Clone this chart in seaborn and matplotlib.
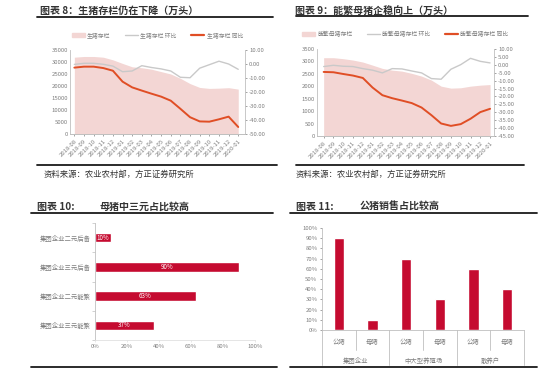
import matplotlib
matplotlib.use("Agg")
import matplotlib.pyplot as plt
from matplotlib.lines import Line2D
from matplotlib.patches import Patch
import seaborn as sns
import numpy as np
import pandas as pd

# ---------------- data ----------------
months = ["2018-08", "2018-09", "2018-10", "2018-11", "2018-12", "2019-01", "2019-02",
          "2019-03", "2019-04", "2019-05", "2019-06", "2019-07", "2019-08", "2019-09",
          "2019-10", "2019-11", "2019-12", "2020-01"]

hog_stock = [32000, 32300, 32300, 32000, 30900, 29400, 28000, 27600, 27000, 26000,
             25000, 23200, 21000, 19400, 19000, 19100, 19300, 18700]
hog_mom = [-0.3, 0.5, 0.5, -0.2, -1.5, -5.5, -5.0, -1.2, -2.5, -3.5, -5.0, -9.5,
           -9.8, -3.0, -0.5, 2.0, 0.0, -3.8]
hog_yoy = [-2.6, -1.9, -1.9, -2.9, -4.8, -12.6, -16.7, -19.0, -21.2, -23.3, -26.2,
           -32.0, -38.0, -41.0, -41.2, -39.5, -37.6, -45.0]

sow_stock = [3150, 3150, 3110, 3055, 2975, 2850, 2720, 2650, 2610, 2520, 2410, 2250,
             2005, 1925, 1940, 2005, 2045, 2070]
sow_mom = [-1.1, -0.3, -0.9, -1.1, -2.4, -3.4, -5.1, -2.4, -2.6, -3.9, -5.1, -8.7,
           -9.1, -2.8, 0.1, 4.1, 2.2, 1.2]
sow_yoy = [-4.5, -4.7, -5.8, -6.8, -8.3, -14.4, -19.2, -21.1, -22.6, -24.2, -27.0,
           -31.8, -37.1, -38.6, -37.5, -34.1, -29.9, -27.8]

breed_labels = ["集团企业二元后备", "集团企业三元后备", "集团企业二元能繁", "集团企业三元能繁"]
breed_values = [10, 90, 63, 37]

sale_groups = ["集团企业", "中大型养殖场", "散养户"]
sale_sex = ["公猪", "母猪"]
sale_values = [90, 10, 70, 30, 60, 40]

# ---------------- style ----------------
sns.set_theme(style="white")
plt.rcParams["font.family"] = ["Noto Sans CJK SC", "DejaVu Sans"]
plt.rcParams["axes.unicode_minus"] = False

W, H = 554, 370
fig = plt.figure(figsize=(W / 100, H / 100), dpi=100)
fig.patch.set_facecolor("white")

PINK = "#F3D6D4"
GREY = "#C9C9C9"
ORANGE = "#E04E25"
CRIMSON = "#C50B30"
TXT = "#7F7F7F"
AX = "#BFBFBF"


def rect(l, t, r, b):
    return [l / W, 1 - b / H, (r - l) / W, (b - t) / H]


def ftext(x, y, s, **kw):
    fig.text(x / W, 1 - y / H, s, va="center", **kw)


def rule(x1, x2, y, lw=1.3):
    fig.add_artist(Line2D([x1 / W, x2 / W], [1 - y / H, 1 - y / H], color="#1a1a1a", lw=lw))


def style_axis(ax):
    for s in ["top"]:
        ax.spines[s].set_visible(False)
    for s in ["left", "right", "bottom"]:
        ax.spines[s].set_color(AX)
        ax.spines[s].set_linewidth(0.6)
    ax.tick_params(colors=TXT, labelsize=4.3, length=1.5, width=0.5, pad=1.5)


def line_panel(r, stock, mom, yoy, names, lticks, rticks, xl):
    ax = fig.add_axes(r)
    x = np.arange(len(months))
    df = pd.DataFrame({"x": x, "stock": stock, "mom": mom, "yoy": yoy})
    ax.fill_between(df["x"], 0, df["stock"], color=PINK, lw=0)
    ax.set_ylim(lticks[0], lticks[-1])
    ax.set_yticks(lticks)
    ax.set_xlim(*xl)
    ax.set_xticks(x)
    ax.set_xticklabels(months, rotation=45, ha="right", rotation_mode="anchor")
    style_axis(ax)
    ax.spines["right"].set_visible(False)
    ax.tick_params(axis="y", length=0)
    ax.tick_params(axis="x", bottom=True)
    ax2 = ax.twinx()
    sns.lineplot(data=df, x="x", y="mom", ax=ax2, color=GREY, lw=1.0)
    sns.lineplot(data=df, x="x", y="yoy", ax=ax2, color=ORANGE, lw=1.4)
    ax2.set_ylim(rticks[0], rticks[-1])
    ax2.set_yticks(rticks)
    ax2.set_yticklabels([f"{v:.2f}" for v in rticks])
    ax2.set_xlim(*xl)
    ax2.set_xlabel("")
    ax2.set_ylabel("")
    ax.set_xlabel("")
    ax.set_ylabel("")
    style_axis(ax2)
    ax2.spines["left"].set_visible(False)
    ax2.tick_params(axis="y", length=1.5)
    ax2.grid(False)
    ax.grid(False)
    handles = [Patch(color=PINK, label=names[0]),
               Line2D([], [], color=GREY, lw=1.0, label=names[1]),
               Line2D([], [], color=ORANGE, lw=1.6, label=names[2])]
    ax.legend(handles=handles, loc="lower center", bbox_to_anchor=(0.5, 1.08), ncol=3,
              frameon=False, fontsize=4.2, labelcolor=TXT, handlelength=2.2,
              handleheight=0.6, columnspacing=2.5, handletextpad=0.4)
    return ax


# ---------------- panel 8 ----------------
ftext(40, 11, "图表 8：生猪存栏仍在下降（万头）", fontsize=7.2, fontweight="bold", color="#333333")
rule(37, 273, 17)
line_panel(rect(70, 50, 245, 134), hog_stock, hog_mom, hog_yoy,
           ["生猪存栏", "生猪存栏 环比", "生猪存栏 同比"],
           list(range(0, 35001, 5000)), list(range(-50, 11, 10)), (-0.45, 17.7))
rule(37, 277, 165)
ftext(44, 174, "资料来源：农业农村部，方正证券研究所", fontsize=6, color="#333333", style="italic")

# ---------------- panel 9 ----------------
ftext(295, 11, "图表 9：能繁母猪企稳向上（万头）", fontsize=7.2, fontweight="bold", color="#333333")
rule(296, 528, 16)
line_panel(rect(317, 49, 494, 136), sow_stock, sow_mom, sow_yoy,
           ["能繁母猪存栏", "能繁母猪存栏 环比", "能繁母猪存栏 同比"],
           list(range(0, 3501, 500)), list(range(-45, 11, 5)), (-0.68, 17.4))
rule(296, 524, 165)
ftext(296, 174, "资料来源：农业农村部，方正证券研究所", fontsize=6, color="#333333", style="italic")

# ---------------- panel 10 ----------------
ftext(37, 207, "图表 10:", fontsize=7.2, fontweight="bold", color="#333333")
ftext(100, 207, "母猪中三元占比较高", fontsize=7.2, fontweight="bold", color="#333333")
rule(31, 273, 213)
ax3 = fig.add_axes(rect(95, 223, 255, 340))
df3 = pd.DataFrame({"label": breed_labels, "value": breed_values})
sns.barplot(data=df3, x="value", y="label", orient="h", color=CRIMSON, width=0.33,
            ax=ax3, saturation=1)
ax3.set_xlim(0, 100)
ax3.set_ylim(3.5, -0.5)
ax3.set_xticks(range(0, 101, 20))
ax3.set_xticklabels([f"{v}%" for v in range(0, 101, 20)])
ax3.set_yticks(np.arange(-0.5, 3.6, 1), minor=True)
style_axis(ax3)
ax3.spines["right"].set_visible(False)
ax3.spines["bottom"].set_color("#E0E0E0")
ax3.tick_params(axis="y", which="major", length=0, labelsize=4.6, pad=3)
ax3.tick_params(axis="y", which="minor", left=True, length=2, color=AX, width=0.5)
ax3.tick_params(axis="x", bottom=True, length=1.5, color="#E0E0E0")
ax3.set_xlabel("")
ax3.set_ylabel("")
for i, v in enumerate(breed_values):
    ax3.text(v / 2, i, f"{v}%", color="white", ha="center", va="center", fontsize=4.5)
rule(31, 277, 367)

# ---------------- panel 11 ----------------
ftext(296, 207, "图表 11:", fontsize=7.2, fontweight="bold", color="#333333")
ftext(360, 207, "公猪销售占比较高", fontsize=7.2, fontweight="bold", color="#333333")
rule(290, 537, 213)
ax4 = fig.add_axes(rect(322, 228, 524, 330))
keys = [f"{g}-{s}" for g in sale_groups for s in sale_sex]
df4 = pd.DataFrame({"key": keys, "value": sale_values})
sns.barplot(data=df4, x="key", y="value", color=CRIMSON, width=0.3, ax=ax4, saturation=1)
ax4.set_xlim(-0.5, 5.5)
ax4.set_ylim(0, 100)
ax4.set_yticks(range(0, 101, 10))
ax4.set_yticklabels([f"{v}%" for v in range(0, 101, 10)])
style_axis(ax4)
ax4.spines["right"].set_visible(False)
ax4.set_xticks([])
ax4.set_xlabel("")
ax4.set_ylabel("")
ax4.tick_params(axis="y", left=True, length=1.8)
tr = ax4.get_xaxis_transform()
for i, k in enumerate(keys):
    ax4.text(i, -0.118, k.split("-")[1], transform=tr, ha="center", va="center",
             fontsize=4.6, color=TXT, clip_on=False)
for j, g in enumerate(sale_groups):
    ax4.text(2 * j + 0.5, -0.30, g, transform=tr, ha="center", va="center",
             fontsize=4.6, color=TXT, clip_on=False)
for b in np.arange(-0.5, 5.6, 1):
    full = int(round(b + 0.5)) % 2 == 0
    y2 = -0.343 if full else -0.196
    ax4.add_line(Line2D([b, b], [0, y2], transform=tr, color=AX, lw=0.6, clip_on=False))
rule(290, 537, 367)

fig.savefig("out.png", dpi=100, facecolor="white")
